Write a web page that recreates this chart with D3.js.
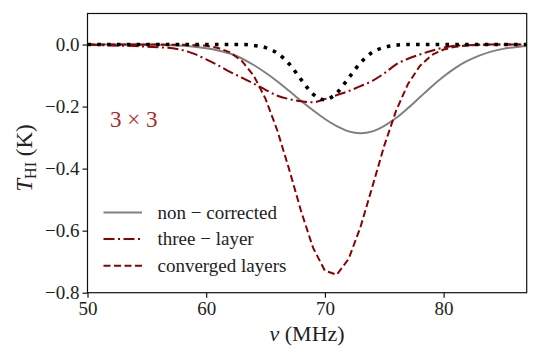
<!DOCTYPE html>
<html>
<head>
<meta charset="utf-8">
<script src="https://cdn.jsdelivr.net/npm/d3@7"></script>
<style>
  text, tspan { font-family: 'Liberation Serif' !important; }
</style>
</head>
<body style="margin:0">
<script>
// frequency grid (MHz)
var freq = d3.range(50, 88);

// T_HI (K) at each MHz
var nonCorrected = [0, 0, 0, 0, 0, -0.001, -0.001, -0.002, -0.004, -0.007,
  -0.012, -0.019, -0.029, -0.045, -0.066, -0.091, -0.119, -0.150, -0.182, -0.212,
  -0.240, -0.263, -0.280, -0.286, -0.280, -0.262, -0.237, -0.205, -0.170, -0.135,
  -0.103, -0.075, -0.053, -0.036, -0.023, -0.014, -0.009, -0.005];
var threeLayer = [-0.001, -0.002, -0.003, -0.004, -0.005, -0.007, -0.009, -0.011, -0.018, -0.030,
  -0.048, -0.067, -0.088, -0.107, -0.126, -0.146, -0.165, -0.176, -0.183, -0.186,
  -0.176, -0.163, -0.150, -0.134, -0.117, -0.093, -0.064, -0.046, -0.032, -0.020,
  -0.010, -0.004, -0.002, -0.001, 0, 0, 0, 0];
var converged = [0, 0, 0, 0, 0, 0, 0, -0.001, -0.001, -0.002,
  -0.004, -0.011, -0.025, -0.053, -0.100, -0.175, -0.278, -0.404, -0.538, -0.655,
  -0.729, -0.742, -0.691, -0.588, -0.458, -0.326, -0.213, -0.127, -0.069, -0.034,
  -0.016, -0.007, -0.003, -0.001, 0, 0, 0, 0];
var reference = [0, 0, 0, 0, 0, 0, 0, 0, 0, 0,
  0, 0, 0, 0, -0.003, -0.010, -0.028, -0.063, -0.113, -0.160,
  -0.178, -0.156, -0.108, -0.059, -0.025, -0.009, -0.002, 0, 0, 0,
  0, 0, 0, 0, 0, 0, 0, 0];

var xTicks = [50, 60, 70, 80];
var yTicks = [0.0, -0.2, -0.4, -0.6, -0.8];
var legendLabels = ["non \u2212 corrected", "three \u2212 layer", "converged layers"];

var FONT = "Liberation Serif";
var width = 540, height = 360;
var margin = {top: 13.5, right: 13.3, bottom: 67.3, left: 87.5};
var w = width - margin.left - margin.right;
var h = height - margin.top - margin.bottom;

var svg = d3.select("body").append("svg")
    .attr("width", width)
    .attr("height", height)
    .attr("font-family", FONT);

var g = svg.append("g")
    .attr("transform", "translate(" + margin.left + "," + margin.top + ")");

var x = d3.scaleLinear().domain([50, 87]).range([0, w]);
var y = d3.scaleLinear().domain([-0.8, 0.1]).range([h, 0]);

g.append("clipPath").attr("id", "clip")
  .append("rect").attr("width", w).attr("height", h);

//series styles
var series = [
  {vals: nonCorrected, color: "#808080", width: 2, dash: null, curve: d3.curveMonotoneX},
  {vals: threeLayer, color: "#8b0000", width: 2, dash: "11,3.5,2,3.5", curve: d3.curveMonotoneX},
  {vals: converged, color: "#8b0000", width: 2, dash: "7,3.5", curve: d3.curveLinear},
  {vals: reference, color: "#000", width: 3.6, dash: "3.6,6.2", curve: d3.curveMonotoneX}
];

var plot = g.append("g").attr("clip-path", "url(#clip)");
series.forEach(function(s) {
    var line = d3.line()
        .x(function(d, i) { return x(freq[i]); })
        .y(function(d) { return y(d); })
        .curve(s.curve);
    plot.append("path")
        .datum(s.vals)
        .attr("d", line)
        .attr("fill", "none")
        .attr("stroke", s.color)
        .attr("stroke-width", s.width)
        .attr("stroke-dasharray", s.dash);
});

// axes
var xAxis = g.append("g")
    .attr("transform", "translate(0," + h + ")")
    .call(d3.axisBottom(x).tickValues(xTicks).tickSize(5).tickPadding(4).tickFormat(d3.format("d")));
var yAxis = g.append("g")
    .call(d3.axisLeft(y).tickValues(yTicks).tickSize(5).tickPadding(3)
        .tickFormat(function(d) { return d3.format(".1f")(d).replace("-", "\u2212"); }));

[xAxis, yAxis].forEach(function(ax) {
    ax.attr("font-family", FONT).attr("font-size", 19);
    ax.select(".domain").remove();
    ax.selectAll("line").attr("stroke", "#000").attr("stroke-width", 1.1);
    ax.selectAll("text")
        .attr("font-family", FONT)
        .attr("fill", "#222");
});

g.append("rect")
    .attr("width", w).attr("height", h)
    .attr("fill", "none").attr("stroke", "#111").attr("stroke-width", 1.2);

// axis labels
var xl = svg.append("text")
    .attr("x", margin.left + w / 2)
    .attr("y", 341)
    .attr("text-anchor", "middle")
    .attr("font-family", FONT)
    .attr("font-size", 22)
    .attr("fill", "#222");
xl.append("tspan").attr("font-style", "italic").text("\u03bd");
xl.append("tspan").text(" (MHz)");

var yl = svg.append("text")
    .attr("transform", "translate(32,158) rotate(-90)")
    .attr("text-anchor", "middle")
    .attr("font-family", FONT)
    .attr("font-size", 23)
    .attr("fill", "#222");
yl.append("tspan").attr("font-style", "italic").text("T");
yl.append("tspan").attr("dy", 4).attr("font-size", 16).text("HI");
yl.append("tspan").attr("dy", -4).text(" (K)");

g.append("text")
    .attr("x", x(51.9))
    .attr("y", y(-0.265))
    .attr("font-family", FONT)
    .attr("font-size", 23)
    .attr("fill", "#b02828")
    .text("3 \u00d7 3");

// legend
var legend = g.append("g").attr("transform", "translate(16,199)");
legendLabels.forEach(function(lab, i) {
    var s = series[i];
    var row = legend.append("g").attr("transform", "translate(0," + (i * 26.6) + ")");
    row.append("line")
        .attr("x1", 0).attr("x2", 38.5)
        .attr("stroke", s.color)
        .attr("stroke-width", s.width)
        .attr("stroke-dasharray", s.dash);
    row.append("text")
        .attr("x", 54)
        .attr("y", 6)
        .attr("font-family", FONT)
        .attr("font-size", 19)
        .attr("fill", "#222")
        .text(lab);
});
</script>
</body>
</html>
